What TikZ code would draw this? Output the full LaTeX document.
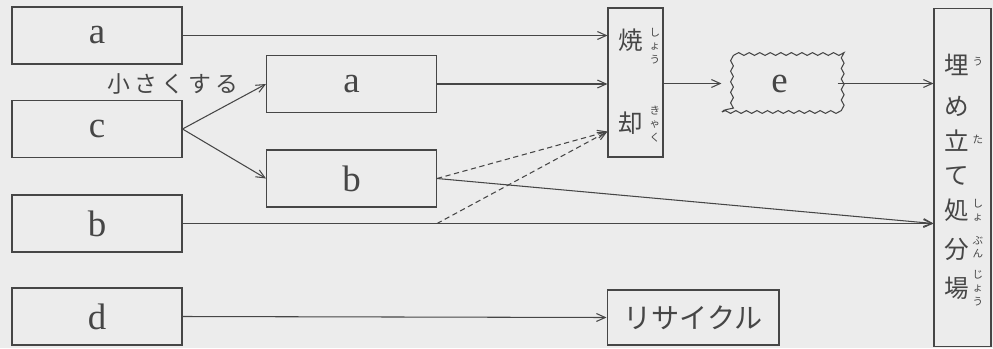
\documentclass[tikz,border=0pt]{standalone}
\usepackage{fontspec}
\newfontfamily\jp{Noto Sans CJK JP}
\newfontfamily\jpsp[LetterSpace=19]{Noto Sans CJK JP}
\newfontfamily\ser{Liberation Serif}
\usetikzlibrary{arrows.meta,decorations.pathmorphing}
\definecolor{paper}{RGB}{236,236,236}
\definecolor{ink}{RGB}{70,70,70}
\tikzset{
  box/.style={draw=ink,line width=0.6pt,minimum width=3.4cm,minimum height=1.14cm,inner sep=0pt},
  lat/.style={font=\ser\fontsize{21}{24}\selectfont,text=ink},
  jpk/.style={font=\jp\fontsize{14}{14}\selectfont,text=ink,inner sep=0pt},
  furi/.style={font=\jp\fontsize{6}{7.6}\selectfont,text=ink,inner sep=0pt,align=center},
  conn/.style={draw=ink,line width=0.6pt,-{Straight Barb[length=5pt,width=4.5pt]}},
}
\begin{document}
\begin{tikzpicture}[x=0.02cm,y=-0.02cm]
            \fill[paper] (0,0) rectangle (993,348);

            \node[box,lat] (a1) at (97,35.5) {a};
            \node[box,lat] (c) at (97,129) {c};
            \node[box,lat] (b1) at (97,223.5) {b};
            \node[box,lat] (d) at (97,316.5) {d};
            \node[jpk,font=\jpsp\fontsize{13}{13}\selectfont] (small) at (173,84) {小さくする};

            \node[box,lat] (a2) at (351.5,84) {a};
            \node[box,lat] (b2) at (351.5,178.5) {b};

            \node[box,minimum width=1.1cm,minimum height=2.98cm] (shok) at (635.5,82.5) {};
            \node[jpk] (sho) at (631,40) {焼};
            \node[furi,anchor=north] (shoy) at (655,28) {し\\ょ\\う};
            \node[jpk] (kyaku) at (631,123) {却};
            \node[furi] (kyakuy) at (655,124) {き\\ゃ\\く};

            \node[box,lat,decorate,decoration={snake,segment length=6pt,amplitude=0.8pt},
                  minimum width=2.3cm,minimum height=1.14cm] (e) at (779.5,83.5) {e};

            \node[box,minimum width=1.14cm,minimum height=6.78cm] (ume) at (962.5,177.5) {};
            \foreach \ch/\yy [count=\i] in {埋/65,め/106,立/141,て/176,処/210,分/249,場/288}
                \node[jpk] (ume\i) at (957,\yy) {\ch};
            \foreach \ky/\yy [count=\i] in {う/62,た/139,し\\ょ/210,ぶ\\ん/247,じ\\ょ\\う/288}
                \node[furi] (umey\i) at (978,\yy) {\ky};

            \node[box,minimum width=3.44cm,minimum height=1.1cm,
                  font=\jp\fontsize{16}{16}\selectfont,text=ink] (rec) at (693,317.5) {リサイクル};

            \coordinate (shin) at ([yshift=-0.98cm]shok.west);
            \coordinate (bjoin) at (b2.east |- b1.east);

            \draw[conn] (a1.east) -- (a1.east -| shok.west);
            \draw[conn] (c.east) -- (a2.west);
            \draw[conn] (c.east) -- (b2.west);
            \draw[conn] (a2.east) -- (a2.east -| shok.west);
            \draw[conn] (e.west -| shok.east) -- (e.west);
            \draw[conn] (e.east) -- (e.east -| ume.west);
            \draw[conn] (b1.east) -- (b1.east -| ume.west);
            \draw[conn] (b2.east) -- (b1.east -| ume.west);
            \draw[conn,dash pattern=on 3pt off 2pt] (b2.east) -- (shin);
            \draw[conn,dash pattern=on 3pt off 2pt] (bjoin) -- (shin);
            \draw[conn] (d.east) -- (rec.west);
        \end{tikzpicture}
\end{document}
